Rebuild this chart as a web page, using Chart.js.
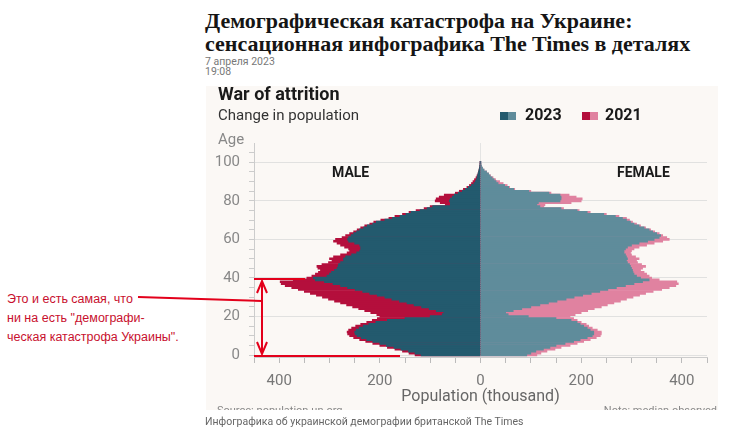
<!DOCTYPE html>
<html lang="ru">
<head>
<meta charset="utf-8">
<title>War of attrition</title>
<script src="https://cdn.jsdelivr.net/npm/chart.js@4.4.1/dist/chart.umd.min.js"></script>
<style>
  body { margin: 0; width: 730px; height: 433px; background: #fff; position: relative; overflow: hidden; font-family: Roboto, sans-serif; }
  .abs { position: absolute; white-space: nowrap; }
  #title { left: 205px; top: 9px; font-family: "Liberation Serif", serif; font-weight: bold; font-size: 22px; line-height: 23px; color: #151515; }
  #date { left: 205px; top: 57px; font-family: "Liberation Sans Narrow", Roboto, sans-serif; font-size: 10.5px; line-height: 10px; color: #777; }
  #panel { left: 206px; top: 86px; width: 512px; height: 324px; background: #fbf8f5; overflow: hidden; }
  #panel canvas { position: absolute; left: 0; top: 0; }
  .head { font-weight: bold; font-size: 18px; line-height: 18px; color: #1a1a1a; }
  .sub { font-size: 15px; line-height: 15px; color: #333; }
  .leg { font-weight: bold; font-size: 16px; line-height: 16px; color: #1a1a1a; }
  .sw { position: absolute; width: 8px; height: 8px; }
  .sex { font-weight: bold; font-size: 14px; line-height: 14px; color: #1a1a1a; }
  .small { font-size: 11px; line-height: 11px; color: #888; }
  #caption { left: 205px; top: 416px; font-family: "Liberation Sans Narrow", Roboto, sans-serif; font-size: 10.5px; line-height: 11px; color: #666; }
  #note { left: 7px; top: 290px; font-family: "Liberation Sans", sans-serif; font-size: 12.5px; line-height: 19px; color: #c8102e; }
</style>
</head>
<body>
<div id="title" class="abs">Демографическая катастрофа на Украине:<br>сенсационная инфографика The Times в деталях</div>
<div id="date" class="abs">7 апреля 2023<br>19:08</div>

<div id="panel" class="abs">
  <canvas id="pyramid" width="512" height="324"></canvas>
  <div class="abs head" style="left:12px; top:-1px;">War of attrition</div>
  <div class="abs sub" style="left:12px; top:22px;">Change in population</div>
  <div class="sw" style="left:294px; top:26px; background:#235a6e;"></div>
  <div class="sw" style="left:302px; top:26px; background:#5f8c9b;"></div>
  <div class="abs leg" style="left:319px; top:21px;">2023</div>
  <div class="sw" style="left:376px; top:26px; background:#b40f3c;"></div>
  <div class="sw" style="left:384px; top:26px; background:#e082a0;"></div>
  <div class="abs leg" style="left:399px; top:21px;">2021</div>
  <div class="abs sub" style="left:12px; top:46px; color:#888;">Age</div>
  <div class="abs sex" style="left:126px; top:79px;">MALE</div>
  <div class="abs sex" style="left:411px; top:79px;">FEMALE</div>
  <div class="abs small" style="left:11px; top:319px;">Source: population.un.org</div>
  <div class="abs small" style="right:1px; top:319px;">Note: median observed</div>
</div>

<div id="caption" class="abs">Инфографика об украинской демографии британской The Times</div>
<div id="note" class="abs">Это и есть самая, что<br>ни на есть "демографи-<br>ческая катастрофа Украины".</div>

<svg class="abs" style="left:0; top:0;" width="730" height="433">
  <g stroke="#e3001b" stroke-width="2" fill="none">
    <line x1="138" y1="297" x2="262" y2="301"/>
    <line x1="254" y1="279" x2="305" y2="279"/>
    <line x1="254" y1="356" x2="400" y2="356"/>
    <line x1="262" y1="281" x2="262" y2="354"/>
    <polyline points="257,293 262,281 267,293"/>
    <polyline points="257,342 262,354 267,342"/>
  </g>
</svg>

<script>
// ages 0..100, one bar per year
const ages = Array.from({ length: 101 }, (_, i) => i);

// population in thousands
const male2023 = [
  118, 130, 143, 158, 172, 187, 200, 214, 226, 237,
  245, 249, 250, 247, 241, 233, 222, 208, 185, 150,
  100, 76, 73, 88, 102, 117, 132, 146, 161, 176,
  190, 205, 220, 234, 249, 264, 278, 293, 310, 328,
  332, 305, 300, 296, 290, 285, 283, 282, 278, 272,
  272, 268, 256, 246, 240, 238, 238, 240, 250, 262,
  264, 262, 257, 252, 246, 240, 232, 225, 214, 207,
  190, 175, 160, 148, 138, 120, 106, 95, 60, 60,
  62, 60, 56, 52, 44, 36, 30, 24, 18, 13,
  10, 8, 7, 6, 5, 4, 3, 2, 1.5, 1,
  0.5
];
const male2021 = [
  130, 142, 155, 170, 185, 200, 214, 228, 240, 252,
  260, 264, 265, 262, 256, 248, 238, 226, 215, 205,
  200, 206, 218, 230, 242, 254, 266, 278, 290, 302,
  314, 326, 338, 350, 362, 375, 388, 396, 398, 372,
  345, 335, 328, 322, 318, 323, 325, 315, 302, 295,
  300, 292, 278, 265, 260, 262, 270, 278, 285, 292,
  288, 275, 268, 260, 252, 245, 238, 230, 220, 212,
  198, 182, 170, 155, 142, 128, 112, 100, 70, 80,
  90, 88, 82, 72, 50, 42, 34, 27, 22, 18,
  15, 12, 9, 7, 5, 4, 3, 2, 1.5, 1,
  0.5
];
const female2023 = [
  92, 100, 110, 125, 138, 150, 168, 185, 198, 212,
  222, 225, 225, 218, 212, 205, 198, 192, 180, 150,
  95, 55, 50, 65, 82, 100, 118, 135, 152, 170,
  186, 203, 220, 237, 253, 270, 288, 305, 322, 335,
  318, 310, 305, 303, 302, 300, 298, 296, 292, 290,
  292, 290, 288, 285, 285, 288, 292, 300, 315, 332,
  345, 355, 358, 350, 342, 335, 325, 315, 305, 298,
  290, 282, 268, 245, 212, 192, 160, 118, 112, 115,
  158, 160, 160, 158, 136, 96, 66, 56, 48, 35,
  31, 27, 23, 19, 16, 12, 7, 4, 2, 1,
  0.5
];
const female2021 = [
  112, 120, 132, 148, 160, 178, 192, 205, 218, 230,
  238, 240, 240, 232, 222, 215, 210, 200, 192, 185,
  178, 188, 200, 213, 226, 240, 252, 265, 278, 290,
  303, 316, 328, 343, 360, 375, 388, 393, 390, 355,
  340, 335, 330, 325, 318, 322, 328, 320, 312, 310,
  315, 308, 300, 298, 300, 305, 315, 330, 345, 362,
  375, 370, 362, 355, 346, 338, 328, 318, 310, 302,
  296, 290, 275, 250, 218, 196, 165, 126, 128, 180,
  200, 202, 190, 176, 140, 100, 68, 58, 53, 45,
  38, 30, 25, 20, 16, 12, 7, 4, 2, 1,
  0.5
];

const xTicks = [-450, -400, -350, -300, -250, -200, -150, -100, -50, 0, 50, 100, 150, 200, 250, 300, 350, 400, 450];
const yTicks = [0, 5, 10, 15, 20, 25, 30, 35, 40, 45, 50, 55, 60, 65, 70, 75, 80, 85, 90, 95, 100, 105];

Chart.defaults.font.family = 'Roboto, sans-serif';

function bars(label, values, sign, color) {
  return {
    label: label,
    data: ages.map((a, i) => ({ x: sign * values[i], y: a })),
    backgroundColor: color,
    borderWidth: 0,
    grouped: false,
    barPercentage: 1,
    categoryPercentage: 1
  };
}

new Chart(document.getElementById('pyramid'), {
  type: 'bar',
  data: {
    datasets: [
      // first datasets are painted last, so 2023 sits over 2021
      bars('Male 2023', male2023, -1, '#235a6e'),
      bars('Female 2023', female2023, 1, '#5f8c9b'),
      bars('Male 2021', male2021, -1, '#b40f3c'),
      bars('Female 2021', female2021, 1, '#e082a0')
    ]
  },
  options: {
    indexAxis: 'y',
    responsive: false,
    animation: false,
    layout: { padding: { top: 57, right: 11, left: 0, bottom: 0 } },
    plugins: { legend: { display: false }, tooltip: { enabled: false } },
    scales: {
      x: {
        type: 'linear',
        min: -450,
        max: 450,
        z: 1,
        afterBuildTicks: s => { s.ticks = xTicks.map(v => ({ value: v })); },
        afterFit: s => { s.height = 53; },
        ticks: {
          autoSkip: false,
          maxRotation: 0,
          padding: 9,
          color: '#777',
          font: { size: 15 },
          callback: v => (v % 200 === 0 ? Math.abs(v) : '')
        },
        grid: {
          color: c => (c.tick && c.tick.value === 0 ? 'rgba(225,225,225,0.9)' : 'rgba(0,0,0,0)'),
          tickColor: '#bbb',
          tickLength: 6
        },
        border: { color: '#ccc' },
        title: {
          display: true,
          text: 'Population (thousand)',
          color: '#666',
          font: { size: 16 },
          padding: { top: 0, bottom: 3 }
        }
      },
      y: {
        type: 'linear',
        min: -1,
        max: 110,
        offset: false,
        z: 1,
        afterBuildTicks: s => { s.ticks = yTicks.map(v => ({ value: v })); },
        afterFit: s => { s.width = 48; },
        ticks: {
          autoSkip: false,
          padding: 9,
          color: '#888',
          font: { size: 15 },
          callback: v => (v % 20 === 0 && v <= 100 ? v : '')
        },
        grid: {
          offset: false,
          color: c => (c.tick && c.tick.value % 20 === 0 && c.tick.value <= 100 ? 'rgba(222,222,222,0.9)' : 'rgba(0,0,0,0)'),
          tickColor: '#ccc',
          tickLength: 5
        },
        border: { color: '#ccc' }
      }
    }
  }
});
</script>
</body>
</html>
